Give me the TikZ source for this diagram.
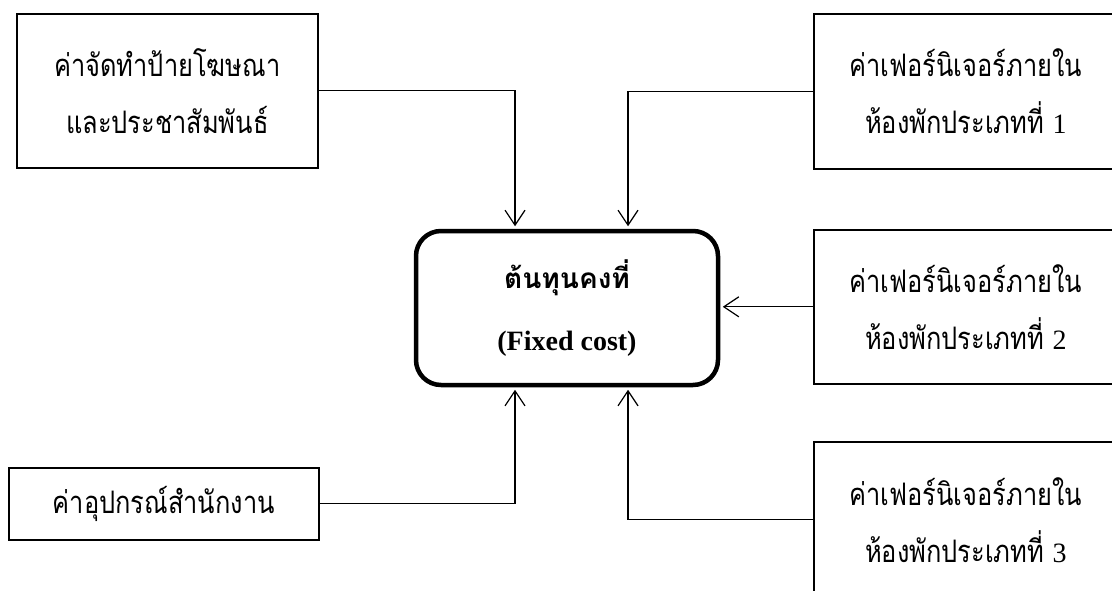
\documentclass[tikz,border=0pt]{standalone}
\usepackage{fontspec}
\setmainfont{Liberation Serif}
\newfontfamily\thai[Script=Thai]{Loma}
\newfontfamily\thaibox[Script=Thai, FakeStretch=0.82]{Loma}
\newcommand\roomno[1]{{\rmfamily\fontsize{28}{57}\selectfont #1}}
\usetikzlibrary{arrows.meta}

\tikzset{
  costbox/.style={draw, line width=1.6pt, inner sep=0pt, align=center,
    anchor=north west, font=\thaibox\fontsize{31}{57}\selectfont},
  hub/.style={draw, line width=4.5pt, rounded corners=25pt, inner sep=0pt,
    align=center, minimum width=302pt, minimum height=154pt,
    font=\fontsize{28}{62}\selectfont\bfseries},
  feed/.style={line width=1.2pt, -{Straight Barb[length=15pt,width=20pt]},
    shorten >=2.5pt},
}

\begin{document}
\begin{tikzpicture}[x=1pt,y=-1pt]
  \useasboundingbox (0,0) rectangle (1112,590);
  \clip (0,0) rectangle (1112,590);

  % central fixed-cost block
  \node[hub] (c) at (567,308) {{\thai ต้นทุนคงที่}\\(Fixed cost)};

  % cost items
  \node[costbox, minimum width=301pt, minimum height=154pt] (tl) at (16,13)
    {ค่าจัดทำป้ายโฆษณา\\และประชาสัมพันธ์};
  \node[costbox, minimum width=310pt, minimum height=72pt] (bl) at (8,467)
    {ค่าอุปกรณ์สำนักงาน};
  \node[costbox, minimum width=304pt, minimum height=155pt] (tr) at (813,13)
    {ค่าเฟอร์นิเจอร์ภายใน\\ห้องพักประเภทที่ \roomno{1}};
  \node[costbox, minimum width=304pt, minimum height=154pt] (mr) at (813,229)
    {ค่าเฟอร์นิเจอร์ภายใน\\ห้องพักประเภทที่ \roomno{2}};
  \node[costbox, minimum width=304pt, minimum height=156pt] (br) at (813,441)
    {ค่าเฟอร์นิเจอร์ภายใน\\ห้องพักประเภทที่ \roomno{3}};

  % columns where the feeds enter the block
  \coordinate (xl) at (515,0);
  \coordinate (xr) at (628,0);

  \draw[feed] (tl.east) -| (xl |- c.north);
  \draw[feed] (tr.west) -| (xr |- c.north);
  \draw[feed] (mr.west) -- (mr.west -| c.east);
  \draw[feed] (bl.east) -| (xl |- c.south);
  \draw[feed] (br.west) -| (xr |- c.south);
\end{tikzpicture}
\end{document}
